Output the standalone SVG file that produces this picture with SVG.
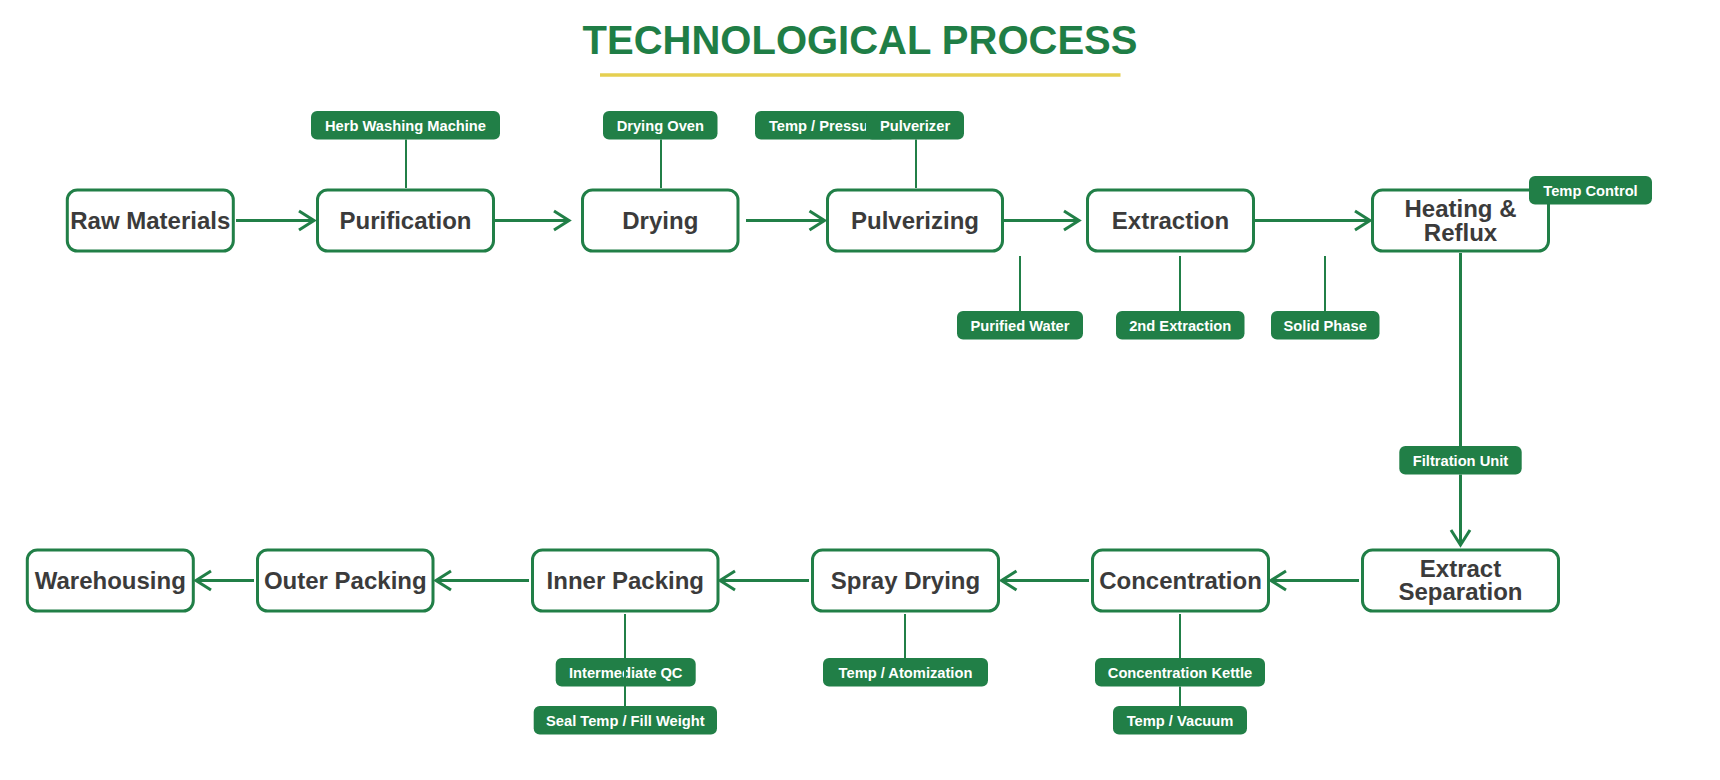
<svg xmlns="http://www.w3.org/2000/svg" width="1720" height="780" viewBox="0 0 1720 780">
  <style>
    .box { fill: #ffffff; stroke: #217f47; stroke-width: 3; }
    .lbl { font-family: "Liberation Sans", Arial, sans-serif; font-weight: bold; font-size: 24px; fill: #3b3b3b; text-anchor: middle; }
    .pill { fill: #217f47; }
    .ptx { font-family: "Liberation Sans", Arial, sans-serif; font-weight: bold; font-size: 14.7px; fill: #ffffff; text-anchor: middle; }
    .flow { fill: none; stroke: #217f47; stroke-width: 3; }
    .thin { fill: none; stroke: #217f47; stroke-width: 2; }
    .title { font-family: "Liberation Sans", Arial, sans-serif; font-weight: bold; font-size: 40px; fill: #1f7e46; text-anchor: middle; }
  </style>
  <defs>
    <marker id="arr" markerUnits="userSpaceOnUse" markerWidth="24" markerHeight="24" viewBox="-20 -12 24 24" refX="0" refY="0" orient="auto">
      <path d="M -15 -9.5 L 0 0 L -15 9.5" fill="none" stroke="#217f47" stroke-width="3"/>
    </marker>
  </defs>
  <rect x="0" y="0" width="1720" height="780" fill="#ffffff"/>

  <g id="title">
    <text class="title" x="860" y="54">TECHNOLOGICAL PROCESS</text>
    <line x1="600" y1="75" x2="1120.5" y2="75" stroke="#e5cf50" stroke-width="3.5"/>
  </g>

  <!-- Top row nodes -->
  <g id="raw-materials">
    <rect class="box" x="67.3" y="190" width="166" height="61" rx="10"/>
    <text class="lbl" x="150.3" y="229">Raw Materials</text>
  </g>
  <g id="purification">
    <rect class="box" x="317.5" y="190" width="176" height="61" rx="10"/>
    <text class="lbl" x="405.5" y="229">Purification</text>
  </g>
  <g id="drying">
    <rect class="box" x="582.5" y="190" width="155.5" height="61" rx="10"/>
    <text class="lbl" x="660.3" y="229">Drying</text>
  </g>
  <g id="pulverizing">
    <rect class="box" x="827.5" y="190" width="175" height="61" rx="10"/>
    <text class="lbl" x="915" y="229">Pulverizing</text>
  </g>
  <g id="extraction">
    <rect class="box" x="1087.5" y="190" width="166" height="61" rx="10"/>
    <text class="lbl" x="1170.5" y="229">Extraction</text>
  </g>
  <g id="heating-reflux">
    <rect class="box" x="1372.5" y="190" width="176" height="61" rx="10"/>
    <text class="lbl"><tspan x="1460.5" y="217">Heating &amp;</tspan><tspan x="1460.5" y="240.5">Reflux</tspan></text>
  </g>

  <!-- Bottom row nodes -->
  <g id="extract-separation">
    <rect class="box" x="1362.5" y="550" width="196" height="61" rx="10"/>
    <text class="lbl"><tspan x="1460.5" y="576.5">Extract</tspan><tspan x="1460.5" y="600">Separation</tspan></text>
  </g>
  <g id="concentration">
    <rect class="box" x="1092.5" y="550" width="176" height="61" rx="10"/>
    <text class="lbl" x="1180.5" y="589">Concentration</text>
  </g>
  <g id="spray-drying">
    <rect class="box" x="812.5" y="550" width="186" height="61" rx="10"/>
    <text class="lbl" x="905.5" y="589">Spray Drying</text>
  </g>
  <g id="inner-packing">
    <rect class="box" x="532.5" y="550" width="185.5" height="61" rx="10"/>
    <text class="lbl" x="625.3" y="589">Inner Packing</text>
  </g>
  <g id="outer-packing">
    <rect class="box" x="257.5" y="550" width="175.5" height="61" rx="10"/>
    <text class="lbl" x="345.3" y="589">Outer Packing</text>
  </g>
  <g id="warehousing">
    <rect class="box" x="27.3" y="550" width="166" height="61" rx="10"/>
    <text class="lbl" x="110.3" y="589">Warehousing</text>
  </g>

  <!-- Annotation pills -->
  <g id="herb-washing-machine">
    <rect class="pill" x="311" y="111" width="189" height="28.5" rx="6"/>
    <text class="ptx" x="405.5" y="130.5">Herb Washing Machine</text>
  </g>
  <g id="drying-oven">
    <rect class="pill" x="603" y="111" width="114.5" height="28.5" rx="6"/>
    <text class="ptx" x="660.3" y="130.5">Drying Oven</text>
  </g>
  <g id="temp-pressure">
    <rect class="pill" x="755" y="111" width="141" height="28.5" rx="6"/>
    <text class="ptx" x="825.5" y="130.5">Temp / Pressure</text>
  </g>
  <g id="pulverizer">
    <rect class="pill" x="866" y="111" width="98" height="28.5" rx="6"/>
    <text class="ptx" x="915" y="130.5">Pulverizer</text>
  </g>
  <g id="temp-control">
    <rect class="pill" x="1529" y="176" width="123" height="28.5" rx="6"/>
    <text class="ptx" x="1590.5" y="195.5">Temp Control</text>
  </g>
  <g id="purified-water">
    <rect class="pill" x="957" y="311" width="126" height="28.5" rx="6"/>
    <text class="ptx" x="1020" y="330.5">Purified Water</text>
  </g>
  <g id="second-extraction">
    <rect class="pill" x="1116" y="311" width="128.5" height="28.5" rx="6"/>
    <text class="ptx" x="1180.2" y="330.5">2nd Extraction</text>
  </g>
  <g id="solid-phase">
    <rect class="pill" x="1271" y="311" width="108.5" height="28.5" rx="6"/>
    <text class="ptx" x="1325.2" y="330.5">Solid Phase</text>
  </g>
  <g id="filtration-unit">
    <rect class="pill" x="1399.3" y="446" width="122.4" height="28.5" rx="6"/>
    <text class="ptx" x="1460.5" y="465.5">Filtration Unit</text>
  </g>
  <g id="temp-atomization">
    <rect class="pill" x="823" y="658" width="165" height="28.5" rx="6"/>
    <text class="ptx" x="905.5" y="677.5">Temp / Atomization</text>
  </g>
  <g id="concentration-kettle">
    <rect class="pill" x="1095" y="658" width="170" height="28.5" rx="6"/>
    <text class="ptx" x="1180" y="677.5">Concentration Kettle</text>
  </g>
  <g id="temp-vacuum">
    <rect class="pill" x="1113" y="706" width="134" height="28.5" rx="6"/>
    <text class="ptx" x="1180" y="725.5">Temp / Vacuum</text>
  </g>
  <g id="intermediate-qc">
    <rect class="pill" x="555.7" y="658" width="140" height="28.5" rx="6"/>
    <text class="ptx" x="625.7" y="677.5">Intermediate QC</text>
  </g>
  <g id="seal-temp-fill-weight">
    <rect class="pill" x="533.7" y="706" width="183.3" height="28.5" rx="6"/>
    <text class="ptx" x="625.3" y="725.5">Seal Temp / Fill Weight</text>
  </g>

  <!-- Connectors -->
  <g id="connectors">
    <line class="flow" x1="236" y1="220.5" x2="314" y2="220.5" marker-end="url(#arr)"/>
    <line class="flow" x1="492" y1="220.5" x2="569" y2="220.5" marker-end="url(#arr)"/>
    <line class="flow" x1="746" y1="220.5" x2="824.5" y2="220.5" marker-end="url(#arr)"/>
    <line class="flow" x1="1001.5" y1="220.5" x2="1079" y2="220.5" marker-end="url(#arr)"/>
    <line class="flow" x1="1255" y1="220.5" x2="1370" y2="220.5" marker-end="url(#arr)"/>
    <line class="flow" x1="1460.5" y1="253" x2="1460.5" y2="446"/>
    <line class="flow" x1="1460.5" y1="474.5" x2="1460.5" y2="545" marker-end="url(#arr)"/>
    <line class="flow" x1="1359" y1="580.5" x2="1271" y2="580.5" marker-end="url(#arr)"/>
    <line class="flow" x1="1089" y1="580.5" x2="1001.5" y2="580.5" marker-end="url(#arr)"/>
    <line class="flow" x1="809" y1="580.5" x2="720" y2="580.5" marker-end="url(#arr)"/>
    <line class="flow" x1="529" y1="580.5" x2="436" y2="580.5" marker-end="url(#arr)"/>
    <line class="flow" x1="254" y1="580.5" x2="196" y2="580.5" marker-end="url(#arr)"/>

    <line class="thin" x1="406" y1="139.5" x2="406" y2="188"/>
    <line class="thin" x1="661" y1="139.5" x2="661" y2="188"/>
    <line class="thin" x1="916" y1="139.5" x2="916" y2="188"/>
    <line class="thin" x1="1020" y1="256" x2="1020" y2="311"/>
    <line class="thin" x1="1180" y1="256" x2="1180" y2="311"/>
    <line class="thin" x1="1325" y1="256" x2="1325" y2="311"/>
    <line class="thin" x1="905" y1="614" x2="905" y2="658"/>
    <line class="thin" x1="1180" y1="614" x2="1180" y2="658"/>
    <line class="thin" x1="1180" y1="686.5" x2="1180" y2="706"/>
    <line class="thin" x1="625" y1="614" x2="625" y2="706"/>
  </g>
</svg>
